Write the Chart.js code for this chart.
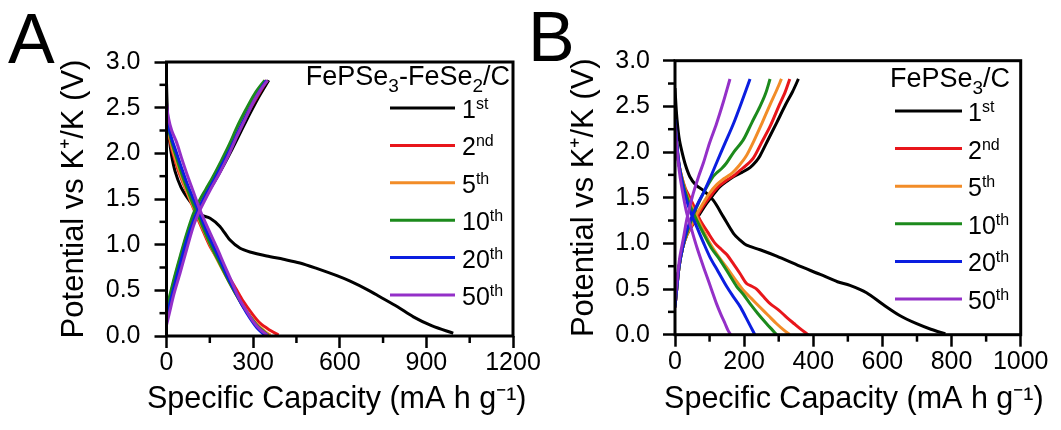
<!DOCTYPE html>
<html lang="en">
<head>
<meta charset="utf-8">
<title>Galvanostatic profiles</title>
<script src="https://cdn.jsdelivr.net/npm/chart.js@4.4.1/dist/chart.umd.min.js"></script>
<style>
  html, body { margin: 0; padding: 0; background: #fff; }
  body { width: 1061px; height: 430px; position: relative; overflow: hidden;
         font-family: 'Liberation Sans', Arial, sans-serif; }
  .panel { position: absolute; top: 0; height: 430px; }
  #pa { left: 0; width: 560px; }
  #pb { left: 530px; width: 531px; }
  .tag { position: absolute; font-size: 70px; line-height: 1; color: #000; }
</style>
</head>
<body>
<div class="panel" id="pa"><canvas id="chartA"></canvas></div>
<div class="panel" id="pb"><canvas id="chartB"></canvas></div>
<div class="tag" style="left:8px; top:4px;">A</div>
<div class="tag" style="left:528px; top:2px;">B</div>

<script>
// cycles shown in both panels
const cycles   = ['1', '2', '5', '10', '20', '50'];
const suffixes = ['st', 'nd', 'th', 'th', 'th', 'th'];
const colors   = ['#000000', '#e8161b', '#f28c28', '#1c8a1c', '#0b1ee0', '#9430c8'];

// axis ticks
const aXTicks = [0, 300, 600, 900, 1200];
const bXTicks = [0, 200, 400, 600, 800, 1000];
const yTicks  = [0, 0.5, 1.0, 1.5, 2.0, 2.5, 3.0];

// ---- Panel A: FePSe3-FeSe2/C  [capacity mAh/g, potential V]
const aDis1  = [[0,2.78],[2,2.55],[5,2.35],[10,2.15],[18,1.97],[30,1.8],[50,1.63],[75,1.5],[100,1.4],[116,1.33],[151,1.29],[185,1.2],[220,1.05],[255,0.96],[289,0.92],[347,0.876],[405,0.84],[462,0.8],[520,0.74],[590,0.66],[636,0.6],[700,0.5],[739,0.43],[800,0.32],[855,0.21],[920,0.11],[993,0.03]];
const aChg1  = [[0,0.18],[12,0.34],[28,0.54],[48,0.78],[70,1.03],[93,1.25],[115,1.4],[140,1.55],[168,1.7],[198,1.87],[228,2.05],[258,2.24],[288,2.43],[320,2.62],[354,2.8]];
const aDis2  = [[0,2.3],[8,2.2],[18,2.05],[29,1.93],[42,1.8],[58,1.67],[80,1.5],[105,1.31],[128,1.14],[151,0.98],[180,0.83],[208,0.69],[240,0.52],[266,0.38],[295,0.25],[324,0.14],[360,0.06],[388,0.01]];
const aChg2  = [[0,0.25],[14,0.42],[30,0.62],[50,0.85],[72,1.08],[95,1.29],[116,1.43],[140,1.57],[168,1.72],[196,1.89],[225,2.07],[253,2.26],[283,2.45],[314,2.62],[348,2.8]];
const aDis5  = [[0,2.35],[8,2.22],[20,2.06],[33,1.92],[48,1.78],[65,1.63],[88,1.45],[110,1.29],[135,1.11],[158,0.95],[185,0.78],[212,0.62],[240,0.46],[265,0.33],[292,0.21],[320,0.11],[345,0.04],[360,0.01]];
const aChg5  = [[0,0.28],[12,0.43],[28,0.63],[48,0.86],[70,1.1],[93,1.31],[113,1.45],[137,1.59],[164,1.74],[192,1.91],[220,2.09],[248,2.28],[278,2.47],[308,2.64],[342,2.8]];
const aDis10 = [[0,2.38],[8,2.25],[20,2.1],[34,1.96],[50,1.8],[68,1.64],[90,1.46],[112,1.3],[137,1.11],[160,0.95],[187,0.78],[214,0.61],[240,0.46],[264,0.33],[290,0.21],[318,0.1],[352,0.01]];
const aChg10 = [[0,0.3],[12,0.45],[28,0.65],[48,0.88],[70,1.12],[92,1.33],[112,1.47],[135,1.6],[162,1.75],[190,1.92],[218,2.1],[246,2.3],[275,2.48],[305,2.65],[340,2.8]];
const aDis20 = [[0,2.45],[7,2.3],[18,2.16],[33,2.02],[50,1.86],[70,1.68],[93,1.5],[116,1.33],[140,1.14],[165,0.97],[190,0.8],[216,0.62],[240,0.47],[263,0.33],[288,0.2],[313,0.09],[340,0.01]];
const aChg20 = [[0,0.2],[12,0.36],[28,0.56],[48,0.8],[70,1.05],[93,1.26],[114,1.41],[138,1.56],[165,1.71],[193,1.88],[222,2.06],[250,2.25],[280,2.44],[311,2.62],[346,2.8]];
const aDis50 = [[0,2.55],[6,2.4],[18,2.25],[35,2.12],[52,1.95],[70,1.78],[93,1.58],[116,1.38],[145,1.17],[174,0.97],[200,0.78],[228,0.58],[250,0.42],[272,0.3],[300,0.16],[325,0.07],[350,0.01]];
const aChg50 = [[0,0.12],[10,0.25],[25,0.45],[47,0.69],[70,0.95],[93,1.2],[110,1.34],[127,1.45],[155,1.62],[185,1.79],[215,1.98],[243,2.18],[272,2.37],[301,2.56],[327,2.7],[350,2.8]];

// ---- Panel B: FePSe3/C
const bDis1  = [[0,2.7],[3,2.5],[6,2.35],[12,2.15],[19,2.02],[30,1.86],[43,1.73],[60,1.64],[82,1.58],[111,1.47],[140,1.29],[169,1.11],[190,1.03],[207,0.98],[246,0.93],[294,0.86],[361,0.75],[420,0.66],[470,0.58],[506,0.54],[554,0.46],[602,0.33],[650,0.21],[699,0.12],[740,0.06],[782,0.01]];
const bChg1  = [[0,0.3],[5,0.5],[12,0.75],[22,0.95],[35,1.1],[50,1.2],[63,1.27],[78,1.36],[92,1.44],[110,1.53],[130,1.62],[150,1.68],[169,1.73],[195,1.78],[217,1.83],[235,1.9],[246,1.96],[270,2.14],[294,2.32],[320,2.52],[340,2.66],[357,2.8]];
const bDis2  = [[0,2.3],[5,2.1],[10,1.9],[18,1.75],[30,1.6],[43,1.5],[58,1.38],[72,1.26],[95,1.12],[116,1.0],[135,0.93],[149,0.88],[170,0.77],[188,0.67],[207,0.56],[222,0.53],[236,0.5],[255,0.42],[275,0.34],[300,0.27],[323,0.19],[345,0.12],[361,0.07],[385,0.0]];
const bChg2  = [[0,0.3],[5,0.5],[12,0.75],[22,0.95],[35,1.1],[50,1.2],[63,1.29],[80,1.4],[101,1.51],[125,1.62],[149,1.69],[170,1.74],[188,1.8],[205,1.85],[226,1.93],[250,2.1],[275,2.28],[300,2.5],[318,2.65],[332,2.8]];
const bDis5  = [[0,2.3],[5,2.1],[10,1.9],[18,1.75],[30,1.58],[43,1.45],[58,1.33],[78,1.17],[101,1.0],[125,0.86],[149,0.74],[175,0.6],[197,0.49],[220,0.4],[246,0.3],[270,0.21],[294,0.12],[315,0.05],[332,0.0]];
const bChg5  = [[0,0.3],[5,0.5],[12,0.75],[22,0.95],[35,1.1],[50,1.22],[63,1.32],[80,1.43],[98,1.54],[120,1.64],[142,1.71],[165,1.77],[185,1.85],[205,1.95],[228,2.12],[252,2.32],[275,2.52],[292,2.66],[308,2.8]];
const bDis10 = [[0,2.32],[5,2.1],[10,1.9],[18,1.74],[30,1.56],[45,1.4],[62,1.26],[82,1.11],[105,0.95],[130,0.82],[155,0.67],[178,0.53],[198,0.44],[217,0.34],[240,0.23],[265,0.12],[282,0.05],[294,0.0]];
const bChg10 = [[0,0.32],[5,0.5],[12,0.75],[22,0.95],[35,1.12],[50,1.28],[63,1.4],[78,1.52],[92,1.62],[108,1.72],[120,1.77],[135,1.82],[149,1.88],[170,2.0],[197,2.13],[222,2.32],[246,2.5],[262,2.64],[275,2.8]];
const bDis20 = [[0,2.36],[5,2.12],[10,1.92],[18,1.72],[30,1.52],[45,1.34],[63,1.18],[82,1.01],[101,0.85],[125,0.69],[149,0.53],[168,0.42],[188,0.31],[205,0.19],[220,0.08],[231,0.0]];
const bChg20 = [[0,0.3],[5,0.5],[12,0.75],[22,0.95],[35,1.15],[53,1.33],[68,1.45],[82,1.55],[100,1.7],[120,1.88],[145,2.1],[169,2.31],[195,2.57],[217,2.8]];
const bDis50 = [[0,2.3],[4,2.1],[9,1.9],[15,1.72],[24,1.52],[34,1.33],[48,1.15],[63,0.96],[78,0.79],[92,0.64],[106,0.49],[120,0.34],[133,0.22],[145,0.12],[153,0.05],[161,0.0]];
const bChg50 = [[0,0.38],[6,0.6],[14,0.85],[24,1.05],[34,1.26],[44,1.42],[53,1.55],[68,1.73],[82,1.88],[100,2.1],[120,2.31],[140,2.55],[159,2.8]];

const xTitle = 'Specific Capacity (mA h g\u207B\u00B9)';
const yTitle = 'Potential vs K\u207A/K (V)';

const FONT = "'Liberation Sans', Arial, Helvetica, sans-serif";
Chart.defaults.font.family = FONT;
Chart.defaults.color = '#000';

function midpoints(t) {
  const m = [];
  for (let i = 0; i < t.length - 1; i++) m.push((t[i] + t[i + 1]) / 2);
  return m;
}

function drawRich(ctx, parts, x, y) {
  parts.forEach(p => {
    ctx.font = p.s + 'px ' + FONT;
    ctx.fillText(p.t, x, y + (p.dy || 0));
    x += ctx.measureText(p.t).width;
  });
}
function richWidth(ctx, parts) {
  let w = 0;
  parts.forEach(p => { ctx.font = p.s + 'px ' + FONT; w += ctx.measureText(p.t).width; });
  return w;
}

// frame, minor ticks, x title (uncompressed) and the in-plot legend
const decor = {
  id: 'decor',
  afterDraw(chart, args, o) {
    const ctx = chart.ctx, a = chart.chartArea;
    const xs = chart.scales.x, ys = chart.scales.y;
    ctx.save();
    ctx.strokeStyle = '#000';
    ctx.lineWidth = 2.5;
    o.xMinor.forEach(v => {
      const px = xs.getPixelForValue(v);
      ctx.beginPath(); ctx.moveTo(px, a.bottom); ctx.lineTo(px, a.bottom + 7); ctx.stroke();
    });
    o.yMinor.forEach(v => {
      const py = ys.getPixelForValue(v);
      ctx.beginPath(); ctx.moveTo(a.left, py); ctx.lineTo(a.left - 7, py); ctx.stroke();
    });
    ctx.lineWidth = 3;
    ctx.strokeRect(a.left, a.top, a.right - a.left, a.bottom - a.top);

    // x axis title
    ctx.fillStyle = '#000';
    ctx.font = '30.5px ' + FONT;
    ctx.textAlign = 'center';
    ctx.textBaseline = 'middle';
    ctx.fillText(xTitle, (a.left + a.right) / 2 + o.xTitleShift, 400);

    // legend
    const L = o.legend;
    ctx.textAlign = 'left';
    ctx.textBaseline = 'alphabetic';
    const tw = richWidth(ctx, L.title);
    drawRich(ctx, L.title, a.right - L.titleRight - tw, a.top + L.titleBase);
    cycles.forEach((c, i) => {
      const y = a.top + L.row0 + i * L.rowGap;
      ctx.strokeStyle = colors[i];
      ctx.lineWidth = 3;
      ctx.beginPath();
      ctx.moveTo(a.right - L.lineStart, y);
      ctx.lineTo(a.right - L.lineEnd, y);
      ctx.stroke();
      drawRich(ctx, [{ t: c, s: 25 }, { t: suffixes[i], s: 16, dy: -9 }], a.right - L.textOff, y + 10);
    });
    ctx.restore();
  }
};

function toXY(arr) { return arr.map(p => ({ x: p[0], y: p[1] })); }

function makeChart(id, cfg) {
  const datasets = [];
  cfg.curves.forEach((pair, i) => {
    pair.forEach(arr => {
      datasets.push({
        label: cycles[i] + suffixes[i],
        data: toXY(arr),
        borderColor: colors[i],
        borderWidth: 3,
        pointRadius: 0,
        tension: 0.3,
        fill: false,
        order: 10 - i
      });
    });
  });

  return new Chart(document.getElementById(id), {
    type: 'line',
    data: { datasets: datasets },
    options: {
      responsive: true,
      maintainAspectRatio: false,
      animation: false,
      layout: { padding: { top: cfg.top, right: cfg.right, left: 0, bottom: 0 } },
      plugins: {
        legend: { display: false },
        tooltip: { enabled: false },
        decor: { xMinor: midpoints(cfg.xTicks), yMinor: midpoints(yTicks), legend: cfg.legend,
                 xTitleShift: cfg.xTitleShift }
      },
      scales: {
        x: {
          type: 'linear',
          min: cfg.xTicks[0],
          max: cfg.xTicks[cfg.xTicks.length - 1],
          afterBuildTicks: s => { s.ticks = cfg.xTicks.map(v => ({ value: v })); },
          afterFit: s => { s.height = cfg.xAxisH; s.paddingRight = 0; s.paddingLeft = 0; },
          ticks: { font: { size: 25 }, padding: 0, autoSkip: false, maxRotation: 0, color: '#000',
                   callback: v => String(v) },
          grid: { drawOnChartArea: false, drawTicks: true, tickLength: 12, tickWidth: 2.5, tickColor: '#000' },
          border: { display: false },
          title: { display: false }
        },
        y: {
          type: 'linear',
          min: 0,
          max: 3,
          afterBuildTicks: s => { s.ticks = yTicks.map(v => ({ value: v })); },
          afterFit: s => { s.width = cfg.yAxisW; s.paddingTop = 0; s.paddingBottom = 0; },
          ticks: { font: { size: 25 }, padding: cfg.yPad, callback: v => v.toFixed(1), color: '#000' },
          grid: { drawOnChartArea: false, drawTicks: true, tickLength: 12, tickWidth: 2.5, tickColor: '#000' },
          border: { display: false },
          title: { display: true, text: yTitle, font: { size: 31 },
                   color: '#000', padding: { top: cfg.yTitlePad, bottom: 0 } }
        }
      }
    },
    plugins: [decor]
  });
}

makeChart('chartA', {
  xTicks: aXTicks,
  curves: [[aDis1, aChg1], [aDis2, aChg2], [aDis5, aChg5], [aDis10, aChg10], [aDis20, aChg20], [aDis50, aChg50]],
  top: 62, right: 47, xAxisH: 94, yAxisW: 166.5, yPad: 14, yTitlePad: 56, xTitleShift: -3,
  legend: {
    title: [{ t: 'FePSe', s: 27 }, { t: '3', s: 19, dy: 7 }, { t: '-FeSe', s: 27 }, { t: '2', s: 19, dy: 7 }, { t: '/C', s: 27 }],
    titleRight: 3, titleBase: 23, row0: 46, rowGap: 37.4, lineStart: 123, lineEnd: 58, textOff: 51
  }
});

makeChart('chartB', {
  xTicks: bXTicks,
  curves: [[bDis1, bChg1], [bDis2, bChg2], [bDis5, bChg5], [bDis10, bChg10], [bDis20, bChg20], [bDis50, bChg50]],
  top: 60.7, right: 40.3, xAxisH: 95.3, yAxisW: 145, yPad: 13, yTitlePad: 36, xTitleShift: 6,
  legend: {
    title: [{ t: 'FePSe', s: 27 }, { t: '3', s: 19, dy: 7 }, { t: '/C', s: 27 }],
    titleRight: 10.7, titleBase: 26.3, row0: 50.3, rowGap: 37.6, lineStart: 125.7, lineEnd: 58.7, textOff: 52.7
  }
});
</script>
</body>
</html>
